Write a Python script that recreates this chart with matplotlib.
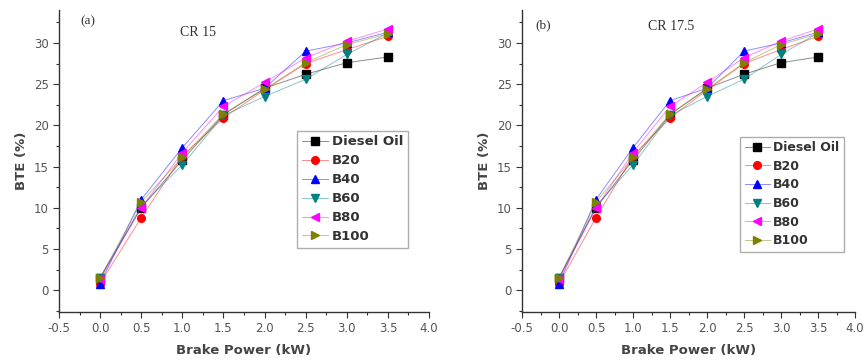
import matplotlib
matplotlib.use("Agg")
import matplotlib.pyplot as plt
from matplotlib.ticker import MultipleLocator
from matplotlib.lines import Line2D

power = [0.0, 0.5, 1.0, 1.5, 2.0, 2.5, 3.0, 3.5]
diesel = [1.5, 10.0, 15.8, 21.3, 24.5, 26.2, 27.6, 28.3]
b20 = [0.8, 8.8, 16.3, 20.9, 24.3, 27.5, 29.2, 30.8]
b40 = [0.8, 11.0, 17.3, 23.0, 24.5, 29.0, 30.0, 31.3]
b60 = [1.5, 10.2, 15.2, 21.2, 23.5, 25.6, 28.6, 31.2]
b80 = [1.3, 10.0, 16.7, 22.3, 25.2, 28.2, 30.2, 31.7]
b100 = [1.5, 10.7, 16.1, 21.4, 24.4, 27.6, 29.8, 31.1]

labels = ["Diesel Oil", "B20", "B40", "B60", "B80", "B100"]
series = [diesel, b20, b40, b60, b80, b100]
colors = ["#000000", "#ff0000", "#0000ff", "#008080", "#ff00ff", "#808000"]
markers = ["s", "o", "^", "v", "<", ">"]

panels = ["(a)", "(b)"]
titles = ["CR 15", "CR 17.5"]

fig = plt.figure(figsize=(8.65, 3.63), dpi=100)
rects = [[0.0682, 0.1405, 0.4278, 0.832], [0.6035, 0.1405, 0.385, 0.832]]
legend_anchor = [(0.643, 0.60), (0.655, 0.58)]
legend_size = [9.5, 9.0]
title_pos = [(0.328, 0.925), (0.378, 0.944)]
panel_pos = [(0.057, 0.963), (0.039, 0.95)]

for k in range(2):
    ax = fig.add_axes(rects[k])
    handles = []
    for y, lab, c, m in zip(series, labels, colors, markers):
        ln, = ax.plot(power, y, color=c, lw=0.7, alpha=0.45)
        mk, = ax.plot(power, y, linestyle="none", marker=m, markersize=5.5,
                      color=c)
        handles.append((ln, mk))
    ax.set_xlim(-0.5, 4.0)
    ax.set_ylim(-2.65, 34)
    ax.xaxis.set_minor_locator(MultipleLocator(0.25))
    ax.yaxis.set_minor_locator(MultipleLocator(2.5))
    ax.set_xticks([-0.5, 0, 0.5, 1, 1.5, 2, 2.5, 3, 3.5, 4.0])
    ax.set_xticklabels(["-0.5", "0.0", "0.5", "1.0", "1.5", "2.0", "2.5", "3.0", "3.5", "4.0"])
    ax.set_yticks([0, 5, 10, 15, 20, 25, 30])
    for s in ["top", "right"]:
        ax.spines[s].set_visible(False)
    for s in ["left", "bottom"]:
        ax.spines[s].set_color("#333333")
        ax.spines[s].set_linewidth(1.0)
    ax.tick_params(which="major", direction="out", length=4, width=0.8,
                   labelsize=8.5, colors="#333333", labelcolor="#555555")
    ax.tick_params(which="minor", direction="out", length=2.5, width=0.8, colors="#333333")
    ax.set_xlabel("Brake Power (kW)", fontsize=9.5, fontweight="bold", color="#444444",
                  labelpad=6)
    ax.set_ylabel("BTE (%)", fontsize=9.5, fontweight="bold", color="#444444")
    ax.text(*panel_pos[k], panels[k], transform=ax.transAxes, family="Liberation Serif",
            fontsize=9.5, color="#333333", va="center")
    ax.text(*title_pos[k], titles[k], transform=ax.transAxes, family="Liberation Serif",
            fontsize=10, color="#333333", va="center")
    leg = ax.legend(handles=handles, labels=labels, loc="upper left",
                    bbox_to_anchor=legend_anchor[k],
                    prop={"weight": "bold", "size": legend_size[k]}, frameon=True,
                    fancybox=False, edgecolor="#999999", handlelength=2.0,
                    handletextpad=0.3, labelspacing=0.45, borderpad=0.35,
                    borderaxespad=0)
    leg.get_frame().set_linewidth(1.0)
    for t in leg.get_texts():
        t.set_color("#333333")

fig.savefig("out.png", dpi=100)
